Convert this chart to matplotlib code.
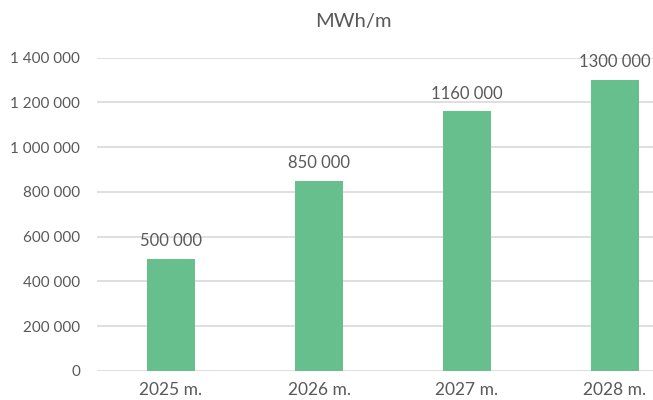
import matplotlib
matplotlib.use("Agg")
import matplotlib.pyplot as plt
from matplotlib.ticker import FuncFormatter

categories = ["2025 m.", "2026 m.", "2027 m.", "2028 m."]
values = [500000, 850000, 1160000, 1300000]
value_labels = ["500 000", "850 000", "1160 000", "1300 000"]
yticks = [0, 200000, 400000, 600000, 800000, 1000000, 1200000, 1400000]
title = "MWh/m"

plt.rcParams['font.family'] = ['Lato', 'DejaVu Sans']
text_color = "#595959"
bar_color = "#66BF8C"
grid_color = "#D9D9D9"

W, H = 653, 400
fig = plt.figure(figsize=(W / 100, H / 100), dpi=100)
left = 97 / W
right = (97 + 4 * 148) / W
bottom = (H - 371) / H
top = (H - 57.5) / H
ax = fig.add_axes([left, bottom, right - left, top - bottom])

x = list(range(len(categories)))
ax.bar(x, values, width=0.32, color=bar_color, zorder=3)
ax.set_xlim(-0.5, len(categories) - 0.5)
ax.set_ylim(0, 1400000)
ax.set_yticks(yticks)
ax.yaxis.set_major_formatter(FuncFormatter(lambda v, p: f"{int(v):,}".replace(",", " ")))
ax.set_xticks(x)
ax.set_xticklabels(categories)
ax.tick_params(axis='both', length=0, colors=text_color)
ax.tick_params(axis='y', pad=12, labelsize=11)
ax.tick_params(axis='x', pad=8, labelsize=12.5)
ax.grid(axis='y', color=grid_color, linewidth=1.2, zorder=0)
for s in ax.spines.values():
    s.set_visible(False)

for xi, v, lab in zip(x, values, value_labels):
    ax.annotate(lab, (xi, v), xytext=(0, 7), textcoords='offset points',
                ha='center', va='bottom', fontsize=12, color=text_color,
                annotation_clip=False)

fig.text(353 / W, 1 - 21 / H, title, ha='center', va='center', fontsize=14.5, color=text_color)

fig.savefig("out.png", dpi=100)
